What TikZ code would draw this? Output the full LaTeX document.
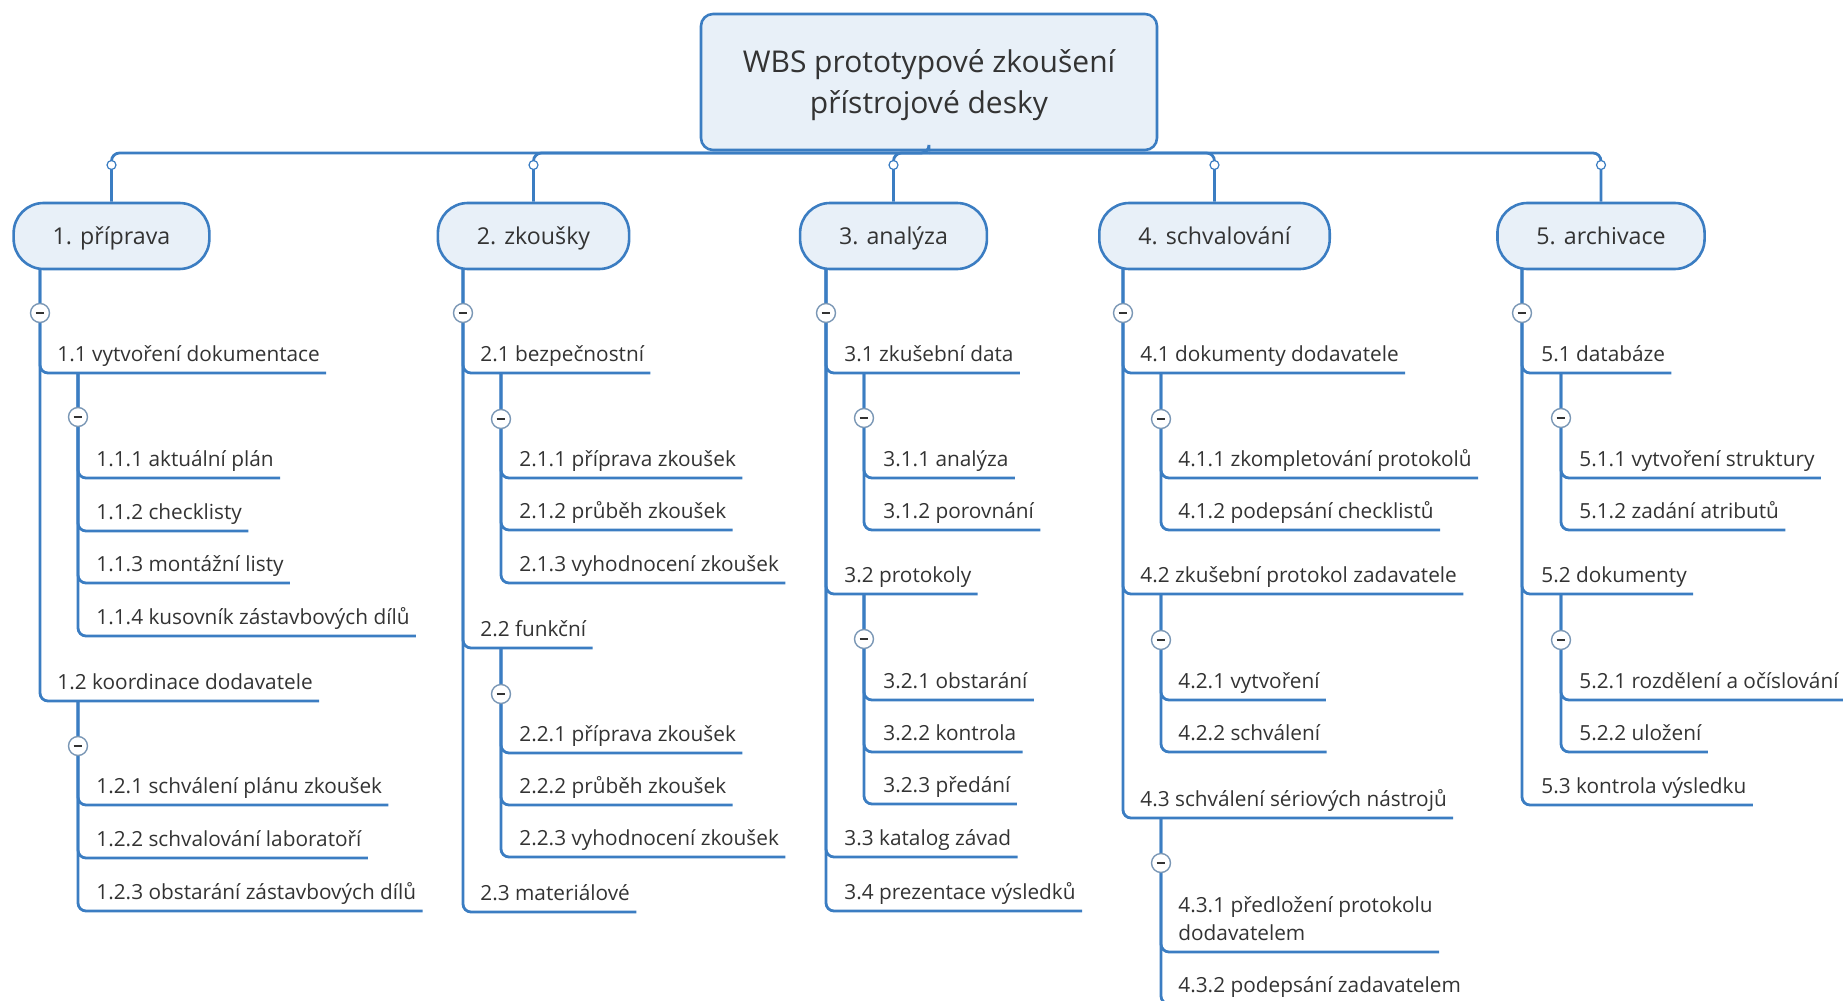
\documentclass[tikz,border=0pt]{standalone}
\usepackage{fontspec}
\setmainfont{Open Sans}
\usepackage{xcolor}
\usepackage{tikz}

\definecolor{wbsblue}{HTML}{3B7DC2}
\definecolor{wbsfill}{HTML}{E8F0F8}
\definecolor{wbstext}{HTML}{333333}
\definecolor{foldgray}{HTML}{7A97B5}

\begin{document}
\begin{tikzpicture}[
    x=0.5pt, y=-0.5pt,
    root/.style={draw=wbsblue, line width=1.3pt, fill=wbsfill, rounded corners=6pt,
        minimum width=228pt, minimum height=68pt, align=center, text=wbstext, text depth=0pt,
        font=\fontsize{15pt}{20.5pt}\selectfont},
    phase/.style={draw=wbsblue, line width=1.3pt, fill=wbsfill, rounded corners=15pt,
        minimum height=33pt, inner xsep=19.5pt, text=wbstext, text height=0.85em, text depth=0.05em,
        font=\fontsize{11.6pt}{14pt}\selectfont},
    item/.style={anchor=south west, inner xsep=3pt, inner ysep=5.5pt, text depth=0pt,
        align=left, text=wbstext, font=\fontsize{10.4pt}{14pt}\selectfont},
    % Connector styles
    link/.style={draw=wbsblue, line width=1.4pt, rounded corners=4pt},
    knob/.style={circle, draw=wbsblue, fill=white, line width=0.6pt, inner sep=0pt, minimum size=4.5pt},
    fold/.style={circle, draw=foldgray, fill=white, line width=0.7pt, inner sep=0pt, minimum size=9.5pt,
        path picture={\draw[wbstext, line width=1.1pt]
            ([xshift=-2.2pt]path picture bounding box.center) -- ([xshift=2.2pt]path picture bounding box.center);}},
    ]

    \useasboundingbox (0,0) rectangle (1843,1001);

    % Root and phases
    \node[root] (root) at (929,82) {WBS prototypové zkoušení\\přístrojové desky};
    \node[phase] (p1) at (111.5,236) {1. příprava};
    \node[phase] (p2) at (533.5,236) {2. zkoušky};
    \node[phase] (p3) at (893.5,236) {3. analýza};
    \node[phase] (p4) at (1214.5,236) {4. schvalování};
    \node[phase] (p5) at (1601,236) {5. archivace};

    % Bus from root to phases
    \coordinate (bus) at (929,153);
    \draw[link] (root.south) -- (bus) -| (p1.north);
    \draw[link] (bus) -| (p2.north);
    \draw[link] (bus) -| (p3.north);
    \draw[link] (bus) -| (p4.north);
    \draw[link] (bus) -| (p5.north);
    \node[knob] (k1) at (111.5,165) {};
    \node[knob] (k2) at (533.5,165) {};
    \node[knob] (k3) at (893.5,165) {};
    \node[knob] (k4) at (1214.5,165) {};
    \node[knob] (k5) at (1601,165) {};

    % Stems below the phases
    \coordinate (s1) at (40,269);
    \coordinate (s2) at (463,269);
    \coordinate (s3) at (826,269);
    \coordinate (s4) at (1123,269);
    \coordinate (s5) at (1522,269);

    % 1. priprava
    \node[item] (n1_1) at (51,373) {1.1 vytvoření dokumentace};
    \node[item] (n1_1_1) at (90,478) {1.1.1 aktuální plán};
    \node[item] (n1_1_2) at (90,531) {1.1.2 checklisty};
    \node[item] (n1_1_3) at (90,583) {1.1.3 montážní listy};
    \node[item] (n1_1_4) at (90,636) {1.1.4 kusovník zástavbových dílů};
    \node[item] (n1_2) at (51,701) {1.2 koordinace dodavatele};
    \node[item] (n1_2_1) at (90,805) {1.2.1 schválení plánu zkoušek};
    \node[item] (n1_2_2) at (90,858) {1.2.2 schvalování laboratoří};
    \node[item] (n1_2_3) at (90,911) {1.2.3 obstarání zástavbových dílů};
    \coordinate (s1_1) at (78,373);
    \coordinate (s1_2) at (78,701);
    \draw[link] (s1) |- (n1_1.south east);
    \draw[link] (s1) |- (n1_2.south east);
    \draw[link] (s1_1) |- (n1_1_1.south east);
    \draw[link] (s1_1) |- (n1_1_2.south east);
    \draw[link] (s1_1) |- (n1_1_3.south east);
    \draw[link] (s1_1) |- (n1_1_4.south east);
    \draw[link] (s1_2) |- (n1_2_1.south east);
    \draw[link] (s1_2) |- (n1_2_2.south east);
    \draw[link] (s1_2) |- (n1_2_3.south east);
    \node[fold] (f1) at (40,313) {};
    \node[fold] (f1_1) at (78,417) {};
    \node[fold] (f1_2) at (78,746) {};

    % 2. zkousky
    \node[item] (n2_1) at (474,373) {2.1 bezpečnostní};
    \node[item] (n2_1_1) at (513,478) {2.1.1 příprava zkoušek};
    \node[item] (n2_1_2) at (513,530) {2.1.2 průběh zkoušek};
    \node[item] (n2_1_3) at (513,583) {2.1.3 vyhodnocení zkoušek};
    \node[item] (n2_2) at (474,648) {2.2 funkční};
    \node[item] (n2_2_1) at (513,753) {2.2.1 příprava zkoušek};
    \node[item] (n2_2_2) at (513,805) {2.2.2 průběh zkoušek};
    \node[item] (n2_2_3) at (513,857) {2.2.3 vyhodnocení zkoušek};
    \node[item] (n2_3) at (474,912) {2.3 materiálové};
    \coordinate (s2_1) at (501,373);
    \coordinate (s2_2) at (501,648);
    \draw[link] (s2) |- (n2_1.south east);
    \draw[link] (s2) |- (n2_2.south east);
    \draw[link] (s2) |- (n2_3.south east);
    \draw[link] (s2_1) |- (n2_1_1.south east);
    \draw[link] (s2_1) |- (n2_1_2.south east);
    \draw[link] (s2_1) |- (n2_1_3.south east);
    \draw[link] (s2_2) |- (n2_2_1.south east);
    \draw[link] (s2_2) |- (n2_2_2.south east);
    \draw[link] (s2_2) |- (n2_2_3.south east);
    \node[fold] (f2) at (463,313) {};
    \node[fold] (f2_1) at (501,419) {};
    \node[fold] (f2_2) at (501,694) {};

    % 3. analyza
    \node[item] (n3_1) at (838,373) {3.1 zkušební data};
    \node[item] (n3_1_1) at (877,478) {3.1.1 analýza};
    \node[item] (n3_1_2) at (877,530) {3.1.2 porovnání};
    \node[item] (n3_2) at (838,594) {3.2 protokoly};
    \node[item] (n3_2_1) at (877,700) {3.2.1 obstarání};
    \node[item] (n3_2_2) at (877,752) {3.2.2 kontrola};
    \node[item] (n3_2_3) at (877,804) {3.2.3 předání};
    \node[item] (n3_3) at (838,857) {3.3 katalog závad};
    \node[item] (n3_4) at (838,911) {3.4 prezentace výsledků};
    \coordinate (s3_1) at (864,373);
    \coordinate (s3_2) at (864,594);
    \draw[link] (s3) |- (n3_1.south east);
    \draw[link] (s3) |- (n3_2.south east);
    \draw[link] (s3) |- (n3_3.south east);
    \draw[link] (s3) |- (n3_4.south east);
    \draw[link] (s3_1) |- (n3_1_1.south east);
    \draw[link] (s3_1) |- (n3_1_2.south east);
    \draw[link] (s3_2) |- (n3_2_1.south east);
    \draw[link] (s3_2) |- (n3_2_2.south east);
    \draw[link] (s3_2) |- (n3_2_3.south east);
    \node[fold] (f3) at (826,313) {};
    \node[fold] (f3_1) at (864,418) {};
    \node[fold] (f3_2) at (864,639) {};

    % 4. schvalovani
    \node[item] (n4_1) at (1134,373) {4.1 dokumenty dodavatele};
    \node[item] (n4_1_1) at (1172,478) {4.1.1 zkompletování protokolů};
    \node[item] (n4_1_2) at (1172,530) {4.1.2 podepsání checklistů};
    \node[item] (n4_2) at (1134,594) {4.2 zkušební protokol zadavatele};
    \node[item] (n4_2_1) at (1172,700) {4.2.1 vytvoření};
    \node[item] (n4_2_2) at (1172,752) {4.2.2 schválení};
    \node[item] (n4_3) at (1134,818) {4.3 schválení sériových nástrojů};
    \node[item] (n4_3_1) at (1172,952) {4.3.1 předložení protokolu\\dodavatelem};
    \node[item] (n4_3_2) at (1172,1004) {4.3.2 podepsání zadavatelem};
    \coordinate (s4_1) at (1161,373);
    \coordinate (s4_2) at (1161,594);
    \coordinate (s4_3) at (1161,818);
    \draw[link] (s4) |- (n4_1.south east);
    \draw[link] (s4) |- (n4_2.south east);
    \draw[link] (s4) |- (n4_3.south east);
    \draw[link] (s4_1) |- (n4_1_1.south east);
    \draw[link] (s4_1) |- (n4_1_2.south east);
    \draw[link] (s4_2) |- (n4_2_1.south east);
    \draw[link] (s4_2) |- (n4_2_2.south east);
    \draw[link] (s4_3) |- (n4_3_1.south east);
    \draw[link] (s4_3) |- (n4_3_2.south east);
    \node[fold] (f4) at (1123,313) {};
    \node[fold] (f4_1) at (1161,419) {};
    \node[fold] (f4_2) at (1161,640) {};
    \node[fold] (f4_3) at (1161,863) {};

    % 5. archivace
    \node[item] (n5_1) at (1535,373) {5.1 databáze};
    \node[item] (n5_1_1) at (1573,478) {5.1.1 vytvoření struktury};
    \node[item] (n5_1_2) at (1573,530) {5.1.2 zadání atributů};
    \node[item] (n5_2) at (1535,594) {5.2 dokumenty};
    \node[item] (n5_2_1) at (1573,700) {5.2.1 rozdělení a očíslování};
    \node[item] (n5_2_2) at (1573,752) {5.2.2 uložení};
    \node[item] (n5_3) at (1535,805) {5.3 kontrola výsledku};
    \coordinate (s5_1) at (1561,373);
    \coordinate (s5_2) at (1561,594);
    \draw[link] (s5) |- (n5_1.south east);
    \draw[link] (s5) |- (n5_2.south east);
    \draw[link] (s5) |- (n5_3.south east);
    \draw[link] (s5_1) |- (n5_1_1.south east);
    \draw[link] (s5_1) |- (n5_1_2.south east);
    \draw[link] (s5_2) |- (n5_2_1.south east);
    \draw[link] (s5_2) |- (n5_2_2.south east);
    \node[fold] (f5) at (1522,313) {};
    \node[fold] (f5_1) at (1561,418) {};
    \node[fold] (f5_2) at (1561,640) {};

\end{tikzpicture}
\end{document}
